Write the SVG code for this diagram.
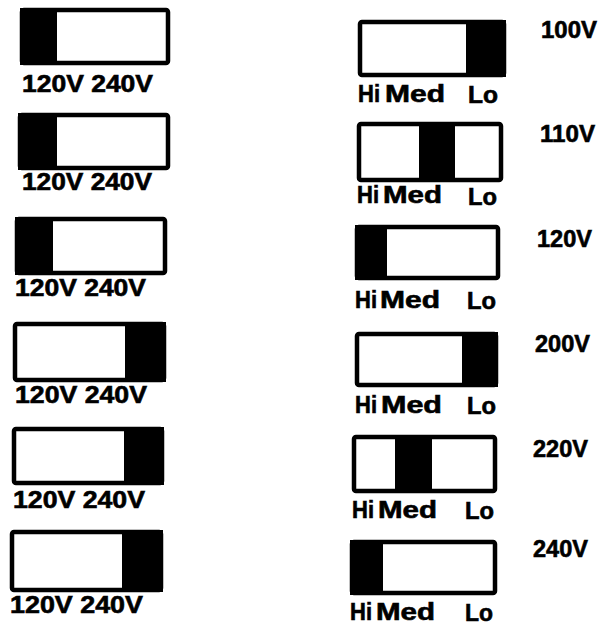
<svg xmlns="http://www.w3.org/2000/svg" width="601" height="626" viewBox="0 0 601 626">
<style>
.box{fill:#fff;stroke:#000;stroke-width:4.5;}
.dk{fill:#000;}
text{font-family:"Liberation Sans",Arial,sans-serif;font-weight:bold;font-size:23px;fill:#000;stroke:#000;stroke-width:0.6;}
</style>
<rect width="601" height="626" fill="#fff"/>
<g id="left1">
<rect class="box" x="22" y="10" width="146" height="53" rx="2"/>
<rect class="dk" x="20" y="8" width="37" height="57"/>
<text x="22" y="92" textLength="131" lengthAdjust="spacingAndGlyphs">120V 240V</text>
</g>
<g id="left2">
<rect class="box" x="20" y="115" width="148" height="53" rx="2"/>
<rect class="dk" x="18" y="113" width="39" height="57"/>
<text x="22" y="190" textLength="130" lengthAdjust="spacingAndGlyphs">120V 240V</text>
</g>
<g id="left3">
<rect class="box" x="17" y="219" width="148" height="54" rx="2"/>
<rect class="dk" x="15" y="217" width="38" height="58"/>
<text x="15" y="296" textLength="131" lengthAdjust="spacingAndGlyphs">120V 240V</text>
</g>
<g id="left4">
<rect class="box" x="15" y="324" width="149" height="56" rx="2"/>
<rect class="dk" x="125" y="322" width="41" height="60"/>
<text x="15" y="403" textLength="132" lengthAdjust="spacingAndGlyphs">120V 240V</text>
</g>
<g id="left5">
<rect class="box" x="14" y="429" width="148" height="54" rx="2"/>
<rect class="dk" x="124" y="427" width="40" height="58"/>
<text x="13" y="508" textLength="132" lengthAdjust="spacingAndGlyphs">120V 240V</text>
</g>
<g id="left6">
<rect class="box" x="12" y="532" width="149" height="58" rx="2"/>
<rect class="dk" x="122" y="530" width="41" height="62"/>
<text x="10" y="613" textLength="133" lengthAdjust="spacingAndGlyphs">120V 240V</text>
</g>
<g id="right1">
<rect class="box" x="360" y="22" width="144" height="53" rx="2"/>
<rect class="dk" x="466" y="20" width="40" height="57"/>
<text x="358" y="102" textLength="22" lengthAdjust="spacingAndGlyphs">Hi</text>
<text x="385" y="102" textLength="60" lengthAdjust="spacingAndGlyphs">Med</text>
<text x="468" y="103" textLength="30" lengthAdjust="spacingAndGlyphs">Lo</text>
<text x="541" y="38" textLength="56" lengthAdjust="spacingAndGlyphs">100V</text>
</g>
<g id="right2">
<rect class="box" x="359" y="124" width="142" height="56" rx="2"/>
<rect class="dk" x="419" y="122" width="36" height="60"/>
<text x="357" y="203" textLength="22" lengthAdjust="spacingAndGlyphs">Hi</text>
<text x="383" y="203" textLength="59" lengthAdjust="spacingAndGlyphs">Med</text>
<text x="468" y="205" textLength="29" lengthAdjust="spacingAndGlyphs">Lo</text>
<text x="540" y="142" textLength="55" lengthAdjust="spacingAndGlyphs">110V</text>
</g>
<g id="right3">
<rect class="box" x="357" y="227" width="141" height="51" rx="2"/>
<rect class="dk" x="355" y="225" width="32" height="55"/>
<text x="355" y="308" textLength="22" lengthAdjust="spacingAndGlyphs">Hi</text>
<text x="380" y="308" textLength="60" lengthAdjust="spacingAndGlyphs">Med</text>
<text x="467" y="309" textLength="29" lengthAdjust="spacingAndGlyphs">Lo</text>
<text x="537" y="247" textLength="55" lengthAdjust="spacingAndGlyphs">120V</text>
</g>
<g id="right4">
<rect class="box" x="357" y="334" width="139" height="51" rx="2"/>
<rect class="dk" x="462" y="332" width="36" height="55"/>
<text x="355" y="413" textLength="22" lengthAdjust="spacingAndGlyphs">Hi</text>
<text x="381" y="413" textLength="61" lengthAdjust="spacingAndGlyphs">Med</text>
<text x="467" y="414" textLength="29" lengthAdjust="spacingAndGlyphs">Lo</text>
<text x="535" y="352" textLength="55" lengthAdjust="spacingAndGlyphs">200V</text>
</g>
<g id="right5">
<rect class="box" x="354" y="437" width="141" height="54" rx="2"/>
<rect class="dk" x="395" y="435" width="37" height="58"/>
<text x="352" y="518" textLength="22" lengthAdjust="spacingAndGlyphs">Hi</text>
<text x="378" y="518" textLength="59" lengthAdjust="spacingAndGlyphs">Med</text>
<text x="465" y="519" textLength="29" lengthAdjust="spacingAndGlyphs">Lo</text>
<text x="533" y="457" textLength="55" lengthAdjust="spacingAndGlyphs">220V</text>
</g>
<g id="right6">
<rect class="box" x="352" y="542" width="143" height="51" rx="2"/>
<rect class="dk" x="350" y="540" width="33" height="55"/>
<text x="350" y="620" textLength="22" lengthAdjust="spacingAndGlyphs">Hi</text>
<text x="376" y="620" textLength="59" lengthAdjust="spacingAndGlyphs">Med</text>
<text x="465" y="621" textLength="28" lengthAdjust="spacingAndGlyphs">Lo</text>
<text x="533" y="557" textLength="55" lengthAdjust="spacingAndGlyphs">240V</text>
</g>
</svg>
